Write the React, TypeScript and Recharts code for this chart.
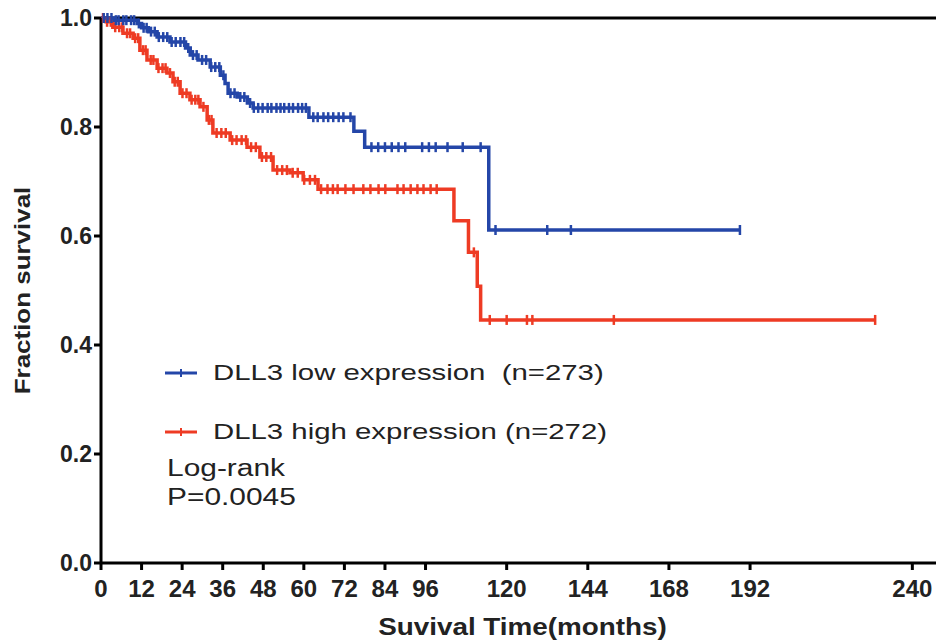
import {
  ComposedChart,
  Line,
  Scatter,
  XAxis,
  YAxis,
  ReferenceLine,
  Legend,
} from "recharts";

const FONT = '"Liberation Sans", Arial, Helvetica, sans-serif';
const BLUE = "#2446a8";
const RED = "#ee3b24";
const INK = "#222";

// step points (months, fraction surviving)
const lowTimes = [0, 4, 10.7, 12, 14, 16.6, 20.4, 25, 26.4, 28.7, 32.3, 35.3, 36.7, 37.6, 40.3, 43.3, 45, 61.5, 74.8, 78, 114.7, 189];
const lowSurv = [1.0, 0.996, 0.99, 0.982, 0.975, 0.965, 0.956, 0.945, 0.932, 0.923, 0.91, 0.895, 0.88, 0.862, 0.855, 0.844, 0.835, 0.818, 0.792, 0.763, 0.611, 0.611];
const lowCensor = [
  0.8, 1.9, 3.1, 4.4, 5.2, 6.6, 7.5, 8.9, 9.8, 11.2, 12.6, 13.5, 14.8, 15.9, 17.1, 18.4, 19.6, 20.9, 22.1, 23.5,
  24.6, 25.8, 27.2, 28.3, 29.9, 31.1, 32.6, 33.8, 35.0, 36.2, 38.3, 39.5, 41.2, 42.4, 44.1, 45.2, 46.5, 47.8,
  49.3, 50.4, 51.9, 53.1, 54.2, 55.6, 56.8, 58.3, 59.5, 60.6, 62.8, 64.1, 65.8, 67.2, 68.7, 70.3, 71.7, 73.8,
  80, 82, 84, 86, 88, 90, 95, 97, 99, 102.5, 107, 112.3, 116.7, 132, 139, 189,
];

const highTimes = [0, 1.5, 3.5, 6.5, 9.5, 11.5, 13.6, 16.6, 19.5, 21.3, 23.4, 26.3, 29.3, 31.4, 33.1, 38.2, 43.2, 47, 50.9, 55.9, 59.8, 64.2, 104.4, 108.7, 111.3, 112.3, 229];
const highSurv = [1.0, 0.993, 0.983, 0.972, 0.963, 0.941, 0.923, 0.908, 0.899, 0.883, 0.862, 0.85, 0.837, 0.813, 0.789, 0.776, 0.763, 0.745, 0.721, 0.716, 0.703, 0.686, 0.628, 0.57, 0.508, 0.446, 0.446];
const highCensor = [
  0.6, 1.8, 2.9, 4.2, 5.4, 6.3, 7.7, 8.6, 10.1, 11.0, 12.4, 13.2, 14.7, 15.5, 17.0, 18.2, 19.1, 20.4, 21.8, 22.7,
  24.1, 25.3, 26.8, 27.9, 28.8, 30.3, 31.9, 32.7, 34.2, 35.6, 36.9, 38.8, 40.1, 41.6, 42.9, 44.4, 45.8, 47.6,
  48.9, 50.3, 52.1, 53.6, 55.0, 56.7, 58.2, 60.1, 61.8, 63.3, 65.1, 67.0, 68.6, 70, 72.3, 74.7, 77.6, 79.7,
  82.1, 84.1, 87.7, 89.5, 91.6, 93.6, 95.4, 97.5, 99.3, 110.3, 115, 120, 126, 127.6, 151.7, 229,
];

const xTicks = [0, 12, 24, 36, 48, 60, 72, 84, 96, 120, 144, 168, 192, 240];
const yTicks = [0, 0.2, 0.4, 0.6, 0.8, 1.0];

const seriesNames = ["DLL3 low expression  (n=273)", "DLL3 high expression (n=272)"];
const seriesColors = [BLUE, RED];
const statLines = ["Log-rank", "P=0.0045"];

const toRows = (times: number[], surv: number[]) =>
  times.map((t, i) => ({ t, s: surv[i] }));

const survAt = (times: number[], surv: number[], t: number) => {
  let v = surv[0];
  for (let i = 0; i < times.length; i++) {
    if (times[i] <= t) v = surv[i];
  }
  return v;
};

const lowRows = toRows(lowTimes, lowSurv);
const highRows = toRows(highTimes, highSurv);
const lowMarks = lowCensor.map((t) => ({ t, s: survAt(lowTimes, lowSurv, t) }));
const highMarks = highCensor.map((t) => ({ t, s: survAt(highTimes, highSurv, t) }));

const censorShape = (color: string) => (p: any) => (
  <line x1={p.cx} x2={p.cx} y1={p.cy - 5} y2={p.cy + 5} stroke={color} strokeWidth={2.5} />
);

const XTick = (p: any) => (
  <text x={p.x} y={p.y} dy={23} textAnchor="middle" fontFamily={FONT} fontWeight="bold" fontSize={24} fill={INK}>
    {p.payload.value}
  </text>
);

const YTick = (p: any) => (
  <text x={p.x} y={p.y} dy={8} textAnchor="end" fontFamily={FONT} fontWeight="bold" fontSize={23} fill={INK}>
    {Number(p.payload.value).toFixed(1)}
  </text>
);

function KeyBox() {
  const row = (top: number, child: any, key: string) => (
    <div key={key} style={{ position: "absolute", left: 0, top, height: 30, lineHeight: "30px", whiteSpace: "pre" }}>
      {child}
    </div>
  );
  return (
    <div style={{ position: "relative", width: 470, height: 170, fontFamily: FONT, color: INK }}>
      {seriesNames.map((name, i) =>
        row(
          8 + i * 59,
          <>
            <svg width={34} height={30} style={{ position: "absolute", left: 5, top: 0 }}>
              <line x1={0} x2={32} y1={15} y2={15} stroke={seriesColors[i]} strokeWidth={3} />
              <line x1={16} x2={16} y1={11} y2={19} stroke={seriesColors[i]} strokeWidth={2} />
            </svg>
            <span
              style={{
                position: "absolute",
                left: 53,
                fontSize: 22,
                display: "inline-block",
                transform: "scaleX(1.334)",
                transformOrigin: "left center",
              }}
            >
              {name}
            </span>
          </>,
          "s" + i
        )
      )}
      {statLines.map((txt, i) =>
        row(
          103 + i * 29,
          <span
            style={{
              position: "absolute",
              left: 7,
              fontSize: 23,
              display: "inline-block",
              transform: "scaleX(1.3)",
              transformOrigin: "left center",
            }}
          >
            {txt}
          </span>,
          "p" + i
        )
      )}
    </div>
  );
}

const YTitle = (props: any) => {
  const vb = props.viewBox || { x: 0, y: 18, height: 545 };
  const cx = 22;
  const cy = vb.y + vb.height / 2;
  return (
    <text
      transform={`translate(${cx},${cy}) rotate(-90) scale(1.18,1)`}
      textAnchor="middle"
      dominantBaseline="central"
      fontFamily={FONT}
      fontWeight="bold"
      fontSize={22}
      fill={INK}
    >
      Fraction survival
    </text>
  );
};

const XTitle = (props: any) => {
  const vb = props.viewBox || { x: 101, y: 563, width: 835 };
  const cx = vb.x + vb.width / 2 + 4;
  const cy = vb.y + 64;
  return (
    <text
      transform={`translate(${cx},${cy}) scale(1.16,1)`}
      textAnchor="middle"
      dominantBaseline="central"
      fontFamily={FONT}
      fontWeight="bold"
      fontSize={24}
      fill={INK}
    >
      Suvival Time(months)
    </text>
  );
};

export default function App() {
  return (
    <div style={{ position: "absolute", left: 0, top: 0, width: 936, height: 641, background: "#fff" }}>
      <ComposedChart width={936} height={641} margin={{ top: 18, right: 0, bottom: 0, left: 0 }}>
        <XAxis
          type="number"
          dataKey="t"
          domain={[0, 247]}
          ticks={xTicks}
          interval={0}
          height={78}
          axisLine={{ stroke: "#000", strokeWidth: 3 }}
          tickLine={{ stroke: "#000", strokeWidth: 3 }}
          tickSize={7}
          tickMargin={4}
          tick={<XTick />}
          label={<XTitle />}
        />
        <YAxis
          type="number"
          domain={[0, 1]}
          ticks={yTicks}
          interval={0}
          width={101}
          axisLine={{ stroke: "#000", strokeWidth: 3 }}
          tickLine={{ stroke: "#000", strokeWidth: 3 }}
          tickSize={7}
          tickMargin={2}
          tick={<YTick />}
          label={<YTitle />}
        />
        <ReferenceLine y={1} stroke="#000" strokeWidth={3} />
        <Line
          data={highRows}
          dataKey="s"
          type="stepAfter"
          stroke={RED}
          strokeWidth={3.5}
          dot={false}
          activeDot={false}
          isAnimationActive={false}
        />
        <Line
          data={lowRows}
          dataKey="s"
          type="stepAfter"
          stroke={BLUE}
          strokeWidth={3.5}
          dot={false}
          activeDot={false}
          isAnimationActive={false}
        />
        <Scatter data={highMarks} dataKey="s" shape={censorShape(RED)} isAnimationActive={false} />
        <Scatter data={lowMarks} dataKey="s" shape={censorShape(BLUE)} isAnimationActive={false} />
        <Legend
          layout="vertical"
          align="center"
          verticalAlign="middle"
          wrapperStyle={{ left: 160, top: 350, width: 470, height: 170 }}
          content={() => <KeyBox />}
        />
      </ComposedChart>
    </div>
  );
}
